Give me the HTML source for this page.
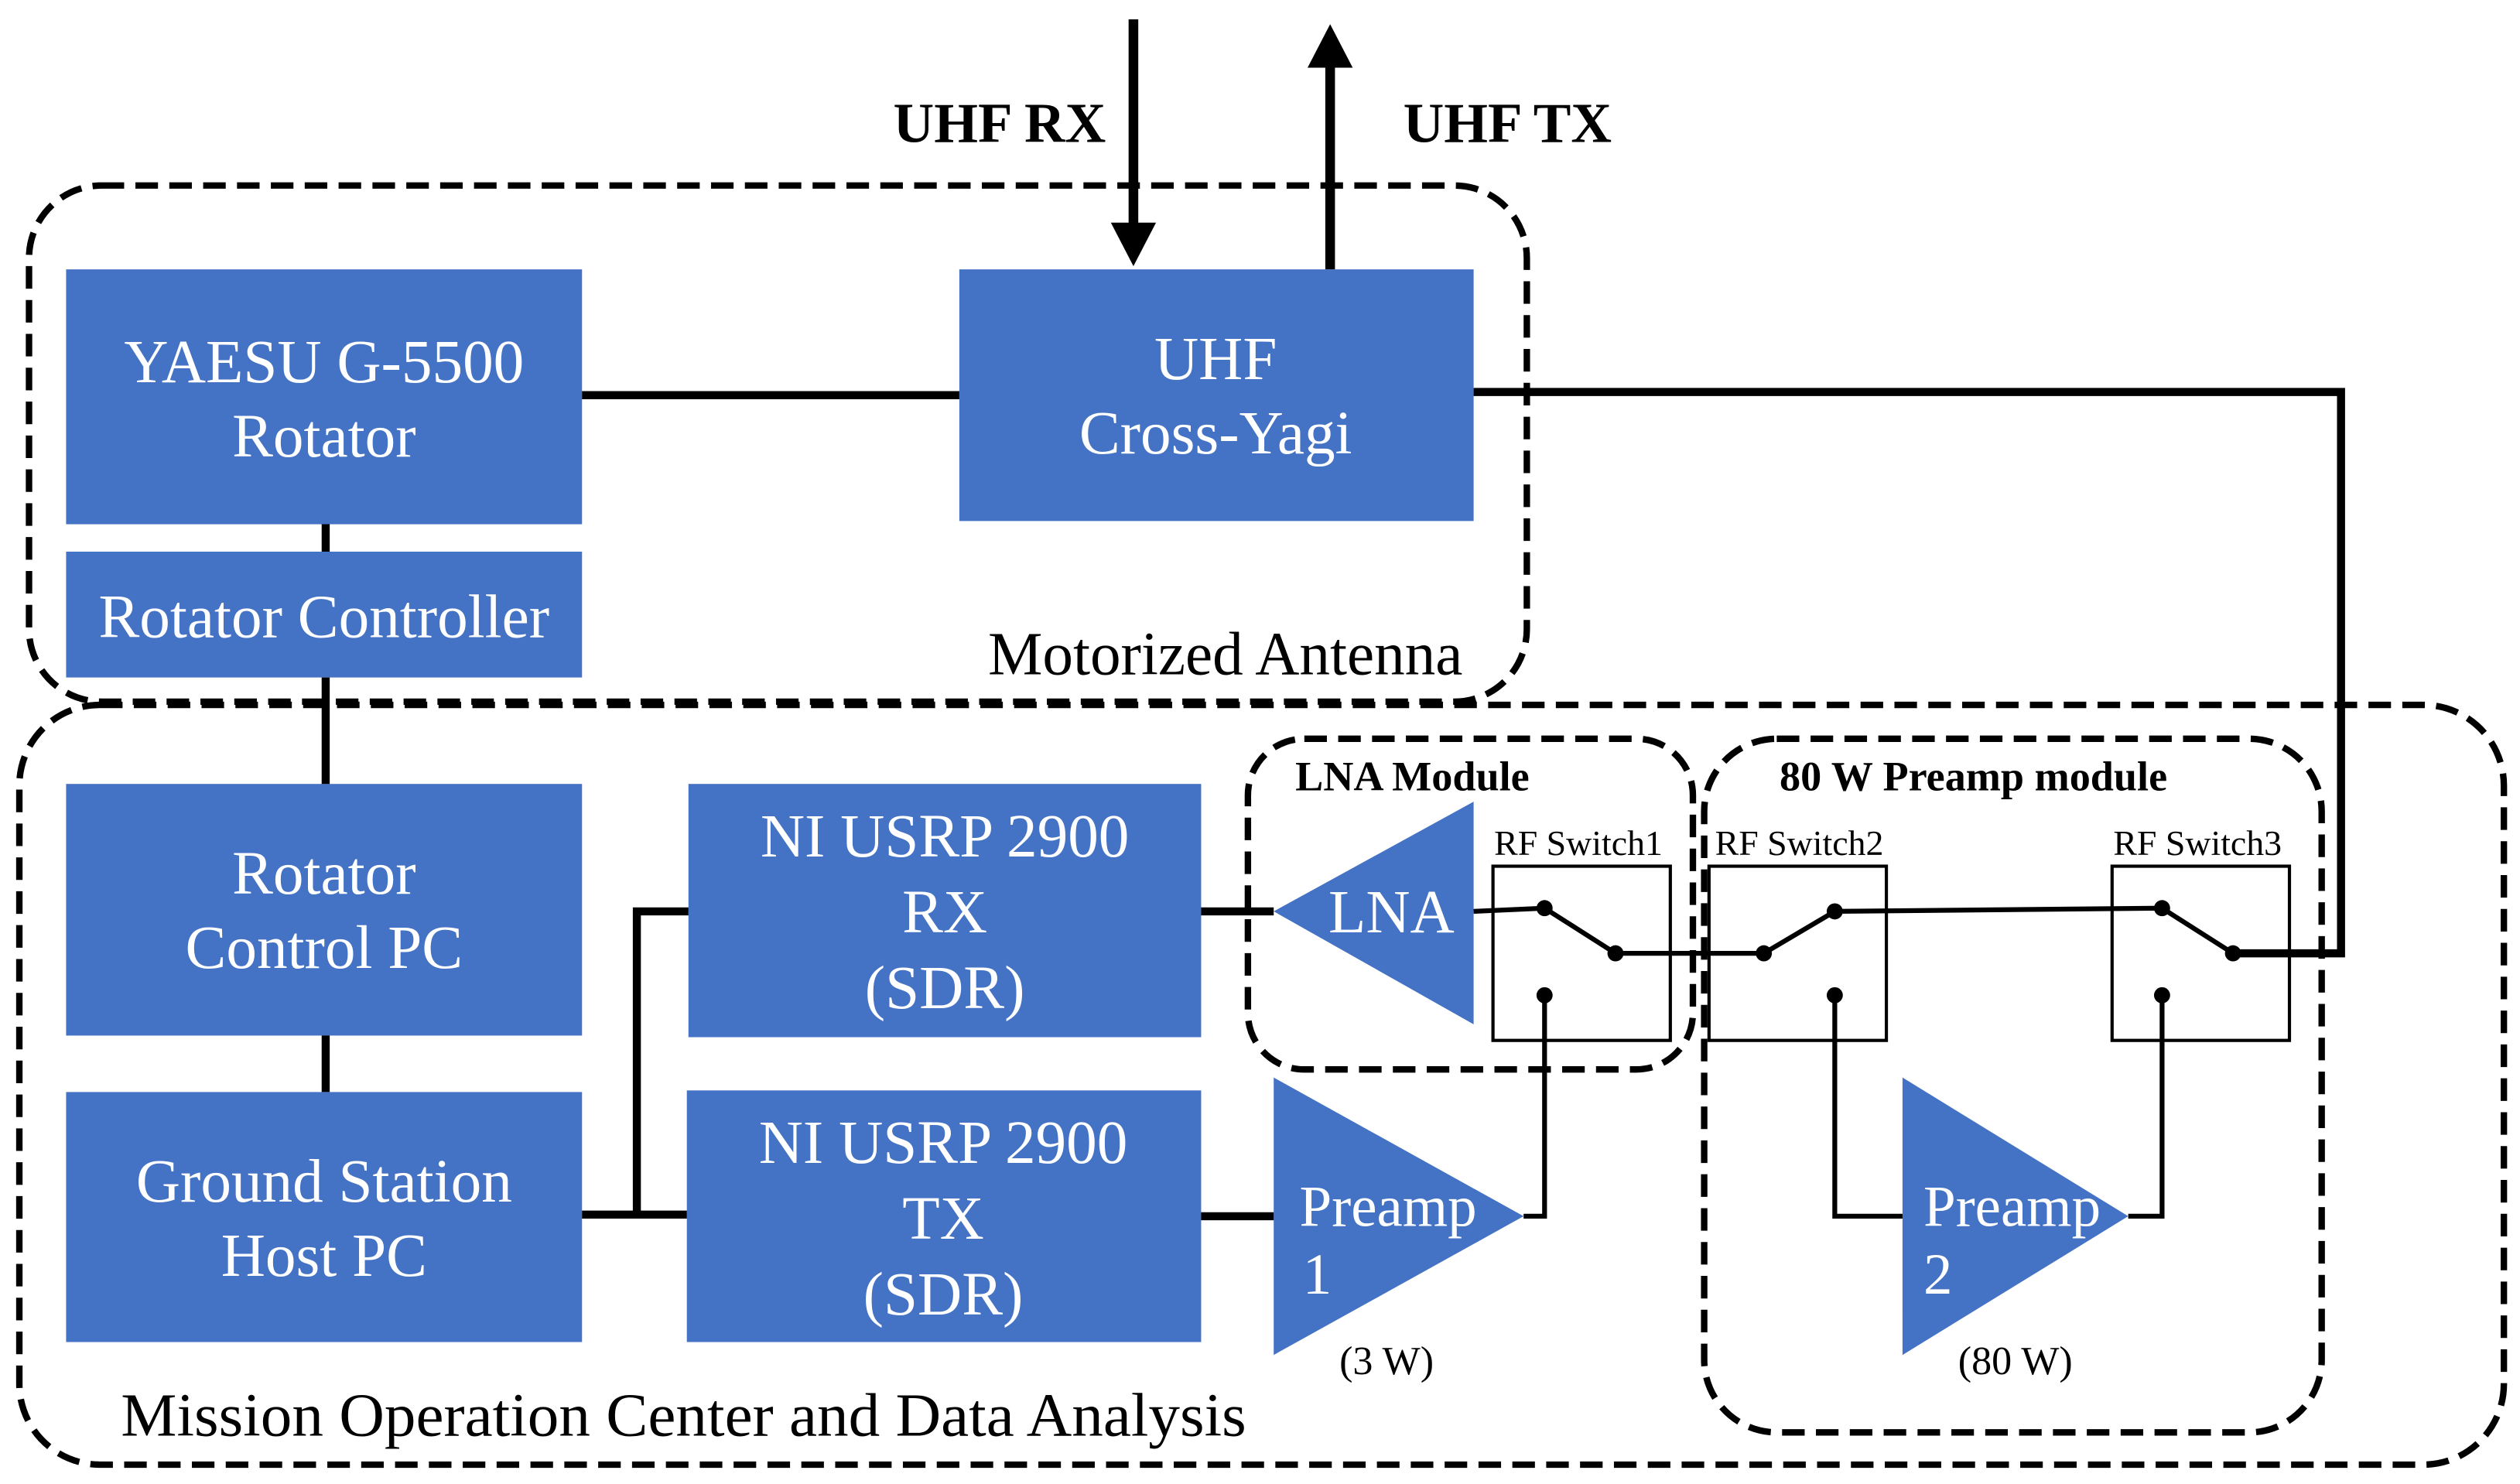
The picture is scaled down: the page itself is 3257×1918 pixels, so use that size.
<!DOCTYPE html>
<html><head><meta charset="utf-8"><style>html,body{margin:0;padding:0;background:#fff}svg{display:block}</style></head><body>
<svg width="3257" height="1918" viewBox="0 0 1563 920" preserveAspectRatio="none" xmlns="http://www.w3.org/2000/svg" font-family="Liberation Serif, serif">
<g fill="none" stroke="#000" stroke-width="4" stroke-dasharray="14,7">
<rect x="18" y="115" width="929" height="320" rx="45"/>
<rect x="12" y="437" width="1541" height="471" rx="50"/>
<rect x="774" y="458" width="276" height="205" rx="35"/>
<rect x="1057" y="458" width="383" height="430" rx="45"/>
</g>
<g fill="#4472C4">
<rect x="41" y="167" width="320" height="158"/>
<rect x="41" y="342" width="320" height="78"/>
<rect x="595" y="167" width="319" height="156"/>
<rect x="41" y="486" width="320" height="156"/>
<rect x="41" y="677" width="320" height="155"/>
<rect x="427" y="486" width="318" height="157"/>
<rect x="426" y="676" width="319" height="156"/>
<polygon points="790,565 914,497 914,635"/>
<polygon points="790,668 790,840 945,754"/>
<polygon points="1180,668 1180,840 1320,754"/>
</g>
<g fill="none" stroke="#000" stroke-width="5">
<line x1="361" y1="245" x2="595" y2="245"/>
<line x1="202" y1="325" x2="202" y2="342"/>
<line x1="202" y1="420" x2="202" y2="486"/>
<line x1="202" y1="642" x2="202" y2="677"/>
<polyline points="914,243 1452,243 1452,591 1385,591"/>
<line x1="361" y1="753" x2="426" y2="753"/>
<polyline points="427,565 395,565 395,753"/>
<line x1="745" y1="565" x2="790" y2="565"/>
<line x1="745" y1="754" x2="790" y2="754"/>
<line x1="703" y1="12" x2="703" y2="140" stroke-width="6"/>
<line x1="825" y1="40" x2="825" y2="167" stroke-width="6"/>
</g>
<polygon points="689,138 717,138 703,165" fill="#000"/>
<polygon points="811,42 839,42 825,15" fill="#000"/>
<g fill="none" stroke="#000" stroke-width="2">
<rect x="926" y="537" width="110" height="108"/>
<rect x="1060" y="537" width="110" height="108"/>
<rect x="1310" y="537" width="110" height="108"/>
</g>
<g fill="none" stroke="#000" stroke-width="3">
<polyline points="914,565 958,563 1002,591 1094,591 1138,565 1341,563 1385,591"/>
<polyline points="945,754 958,754 958,617"/>
<polyline points="1138,617 1138,754 1180,754"/>
<polyline points="1320,754 1341,754 1341,617"/>
</g>
<g fill="#000">
<circle cx="958" cy="563" r="5"/><circle cx="1002" cy="591" r="5"/><circle cx="958" cy="617" r="5"/>
<circle cx="1094" cy="591" r="5"/><circle cx="1138" cy="565" r="5"/><circle cx="1138" cy="617" r="5"/>
<circle cx="1341" cy="563" r="5"/><circle cx="1385" cy="591" r="5"/><circle cx="1341" cy="617" r="5"/>
</g>
<g fill="#fff" font-size="38" text-anchor="middle">
<text x="201" y="237">YAESU G-5500</text><text x="201" y="283">Rotator</text>
<text x="201" y="395">Rotator Controller</text>
<text x="754" y="235">UHF</text><text x="754" y="281">Cross-Yagi</text>
<text x="201" y="554">Rotator</text><text x="201" y="600">Control PC</text>
<text x="201" y="745">Ground Station</text><text x="201" y="791">Host PC</text>
<text x="586" y="531">NI USRP 2900</text><text x="586" y="578">RX</text><text x="586" y="625">(SDR)</text>
<text x="585" y="721">NI USRP 2900</text><text x="585" y="768">TX</text><text x="585" y="815">(SDR)</text>
<text x="863" y="578">LNA</text>
</g>
<g fill="#fff" font-size="36">
<text x="806" y="760">Preamp</text><text x="808" y="802">1</text>
<text x="1193" y="760">Preamp</text><text x="1193" y="802">2</text>
</g>
<g fill="#000">
<text x="620" y="88" font-size="35" font-weight="bold" text-anchor="middle">UHF RX</text>
<text x="935" y="88" font-size="35" font-weight="bold" text-anchor="middle">UHF TX</text>
<text x="760" y="418" font-size="38" text-anchor="middle">Motorized Antenna</text>
<text x="75" y="890" font-size="38" textLength="698" lengthAdjust="spacingAndGlyphs">Mission Operation Center and Data Analysis</text>
<text x="876" y="490" font-size="26" font-weight="bold" text-anchor="middle">LNA Module</text>
<text x="1224" y="490" font-size="26" font-weight="bold" text-anchor="middle">80 W Preamp module</text>
<text x="979" y="530" font-size="22" text-anchor="middle">RF Switch1</text>
<text x="1116" y="530" font-size="22" text-anchor="middle">RF Switch2</text>
<text x="1363" y="530" font-size="22" text-anchor="middle">RF Switch3</text>
<text x="860" y="852" font-size="25" text-anchor="middle">(3 W)</text>
<text x="1250" y="852" font-size="25" text-anchor="middle">(80 W)</text>
</g>
</svg>
</body></html>
